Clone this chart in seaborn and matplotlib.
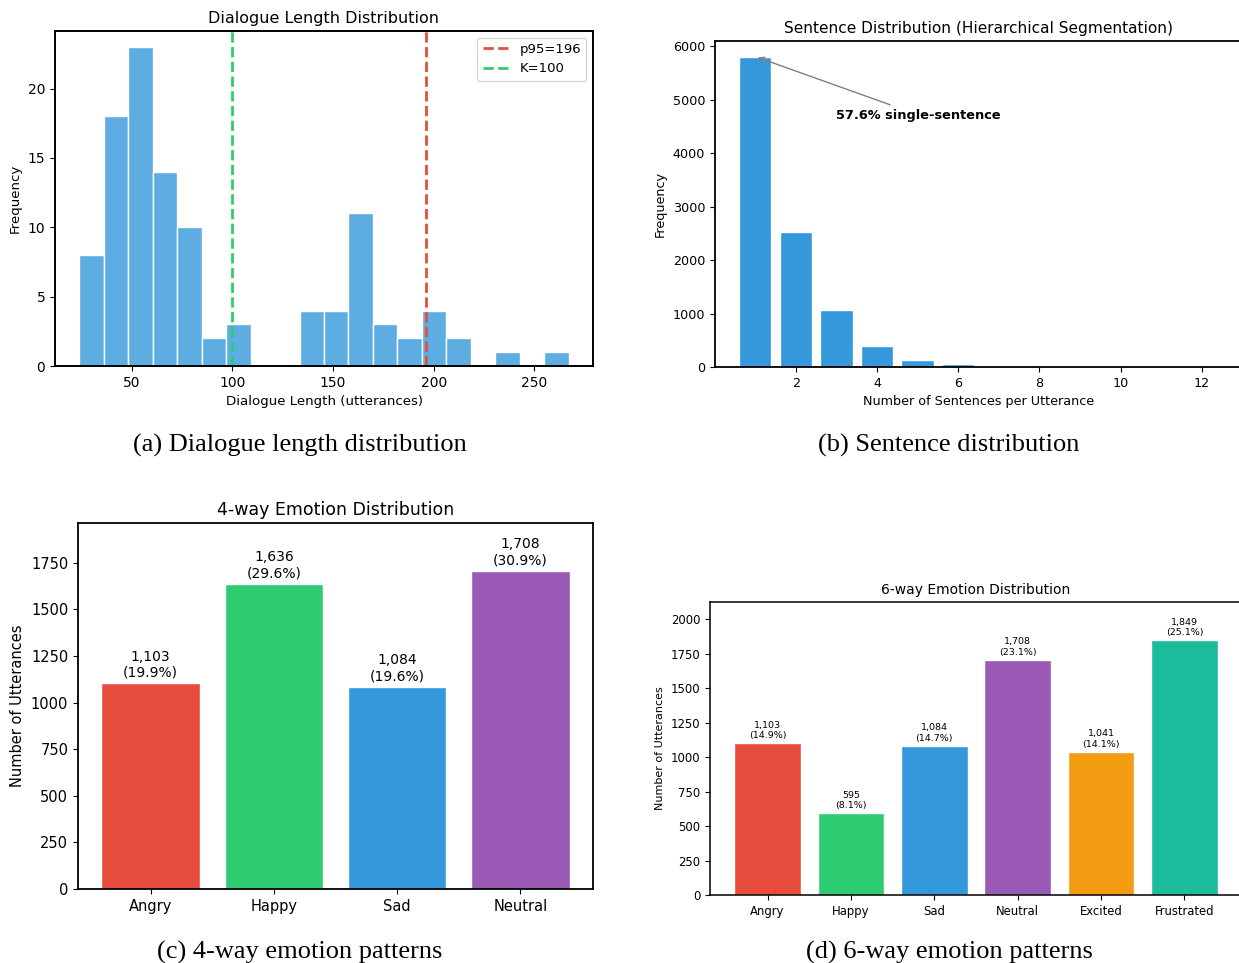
import numpy as np
import pandas as pd
import matplotlib
matplotlib.use('Agg')
import matplotlib.pyplot as plt
import seaborn as sns

# (a) dialogue length histogram, 20 bins between min and max length
len_min, len_max = 24, 267
len_counts = [8, 18, 23, 14, 10, 2, 3, 0, 0, 4, 4, 11, 3, 2, 4, 2, 0, 1, 0, 1]
p95 = 196
k_window = 100

# (b) sentences per utterance
n_sentences = [1, 2, 3, 4, 5, 6, 7, 8, 9, 10, 11, 12]
sent_freq = [5810, 2520, 1060, 400, 140, 55, 20, 6, 3, 2, 1, 1]

# (c) 4-way emotions
emo4 = ['Angry', 'Happy', 'Sad', 'Neutral']
emo4_counts = [1103, 1636, 1084, 1708]
emo4_pct = [19.9, 29.6, 19.6, 30.9]

# (d) 6-way emotions
emo6 = ['Angry', 'Happy', 'Sad', 'Neutral', 'Excited', 'Frustrated']
emo6_counts = [1103, 595, 1084, 1708, 1041, 1849]
emo6_pct = [14.9, 8.1, 14.7, 23.1, 14.1, 25.1]

colors = ['#e74c3c', '#2ecc71', '#3498db', '#9b59b6', '#f39c12', '#1abc9c']

W, H = 1239, 963
fig = plt.figure(figsize=(W / 100, H / 100), dpi=100)


def px_axes(left, top, right, bottom):
    return fig.add_axes([left / W, 1 - bottom / H, (right - left) / W, (bottom - top) / H])


# ---- (a)
ax = px_axes(55, 31, 593, 366)
edges = np.linspace(len_min, len_max, len(len_counts) + 1)
hist_df = pd.DataFrame({'length': (edges[:-1] + edges[1:]) / 2, 'count': len_counts})
sns.histplot(data=hist_df, x='length', weights='count', bins=len(len_counts),
             binrange=(len_min, len_max), color='#3498db', alpha=0.8,
             edgecolor='white', linewidth=1, ax=ax)
ax.axvline(p95, color='#e74c3c', ls='--', lw=2, label=f'p95={p95}')
ax.axvline(k_window, color='#2ecc71', ls='--', lw=2, label=f'K={k_window}')
ax.set_title('Dialogue Length Distribution', fontsize=11.5)
ax.set_xlabel('Dialogue Length (utterances)', fontsize=9.6)
ax.set_ylabel('Frequency', fontsize=9.6)
ax.tick_params(labelsize=10)
ax.legend(loc='upper right', fontsize=9.5)
for s in ax.spines.values():
    s.set_linewidth(1.4)

# ---- (b)
ax = px_axes(715, 41, 1242, 367)
sns.barplot(x=n_sentences, y=sent_freq, native_scale=True, color='#3498db', saturation=1,
            edgecolor='white', width=0.8, ax=ax)
ax.set_xlim(0.01, 12.99)
ax.set_xticks([2, 4, 6, 8, 10, 12])
ax.annotate('57.6% single-sentence', xy=(1, sent_freq[0]), xytext=(3, 4650),
            fontsize=9.3, fontweight='bold',
            arrowprops=dict(arrowstyle='->', color='gray'))
ax.set_title('Sentence Distribution (Hierarchical Segmentation)', fontsize=11.1)
ax.set_xlabel('Number of Sentences per Utterance', fontsize=9.2)
ax.set_ylabel('Frequency', fontsize=9.2)
ax.tick_params(labelsize=9.2)
for s in ax.spines.values():
    s.set_linewidth(1.3)

# ---- (c)
ax = px_axes(78, 523, 593, 889)
sns.barplot(x=emo4, y=emo4_counts, hue=emo4, palette=colors[:4], saturation=1,
            edgecolor='white', width=0.8, legend=False, ax=ax)
ax.set_xlim(-0.59, 3.59)
ax.set_ylim(0, max(emo4_counts) * 1.15)
for i, (c, p) in enumerate(zip(emo4_counts, emo4_pct)):
    ax.text(i, c + 20, f'{c:,}\n({p}%)', ha='center', va='bottom', fontsize=10)
ax.set_title('4-way Emotion Distribution', fontsize=12.5)
ax.set_ylabel('Number of Utterances', fontsize=10.5)
ax.set_xlabel('')
ax.tick_params(labelsize=10.5)
for s in ax.spines.values():
    s.set_linewidth(1.3)

# ---- (d)
ax = px_axes(710, 602, 1242, 895)
sns.barplot(x=emo6, y=emo6_counts, hue=emo6, palette=colors, saturation=1,
            edgecolor='white', width=0.8, legend=False, ax=ax)
ax.set_xlim(-0.69, 5.69)
ax.set_ylim(0, max(emo6_counts) * 1.15)
for i, (c, p) in enumerate(zip(emo6_counts, emo6_pct)):
    ax.text(i, c + 20, f'{c:,}\n({p}%)', ha='center', va='bottom', fontsize=6.8)
ax.set_title('6-way Emotion Distribution', fontsize=10)
ax.set_ylabel('Number of Utterances', fontsize=8)
ax.set_xlabel('')
ax.tick_params(labelsize=8.4)
for s in ax.spines.values():
    s.set_linewidth(1.1)

# captions
cap = dict(ha='center', va='center', fontsize=19, family='Liberation Serif')
fig.text(300 / W, 1 - 445 / H, '(a) Dialogue length distribution', **cap)
fig.text(949 / W, 1 - 445 / H, '(b) Sentence distribution', **cap)
fig.text(300 / W, 1 - 952 / H, '(c) 4-way emotion patterns', **cap)
fig.text(949 / W, 1 - 952 / H, '(d) 6-way emotion patterns', **cap)

fig.savefig('out.png', dpi=100)
